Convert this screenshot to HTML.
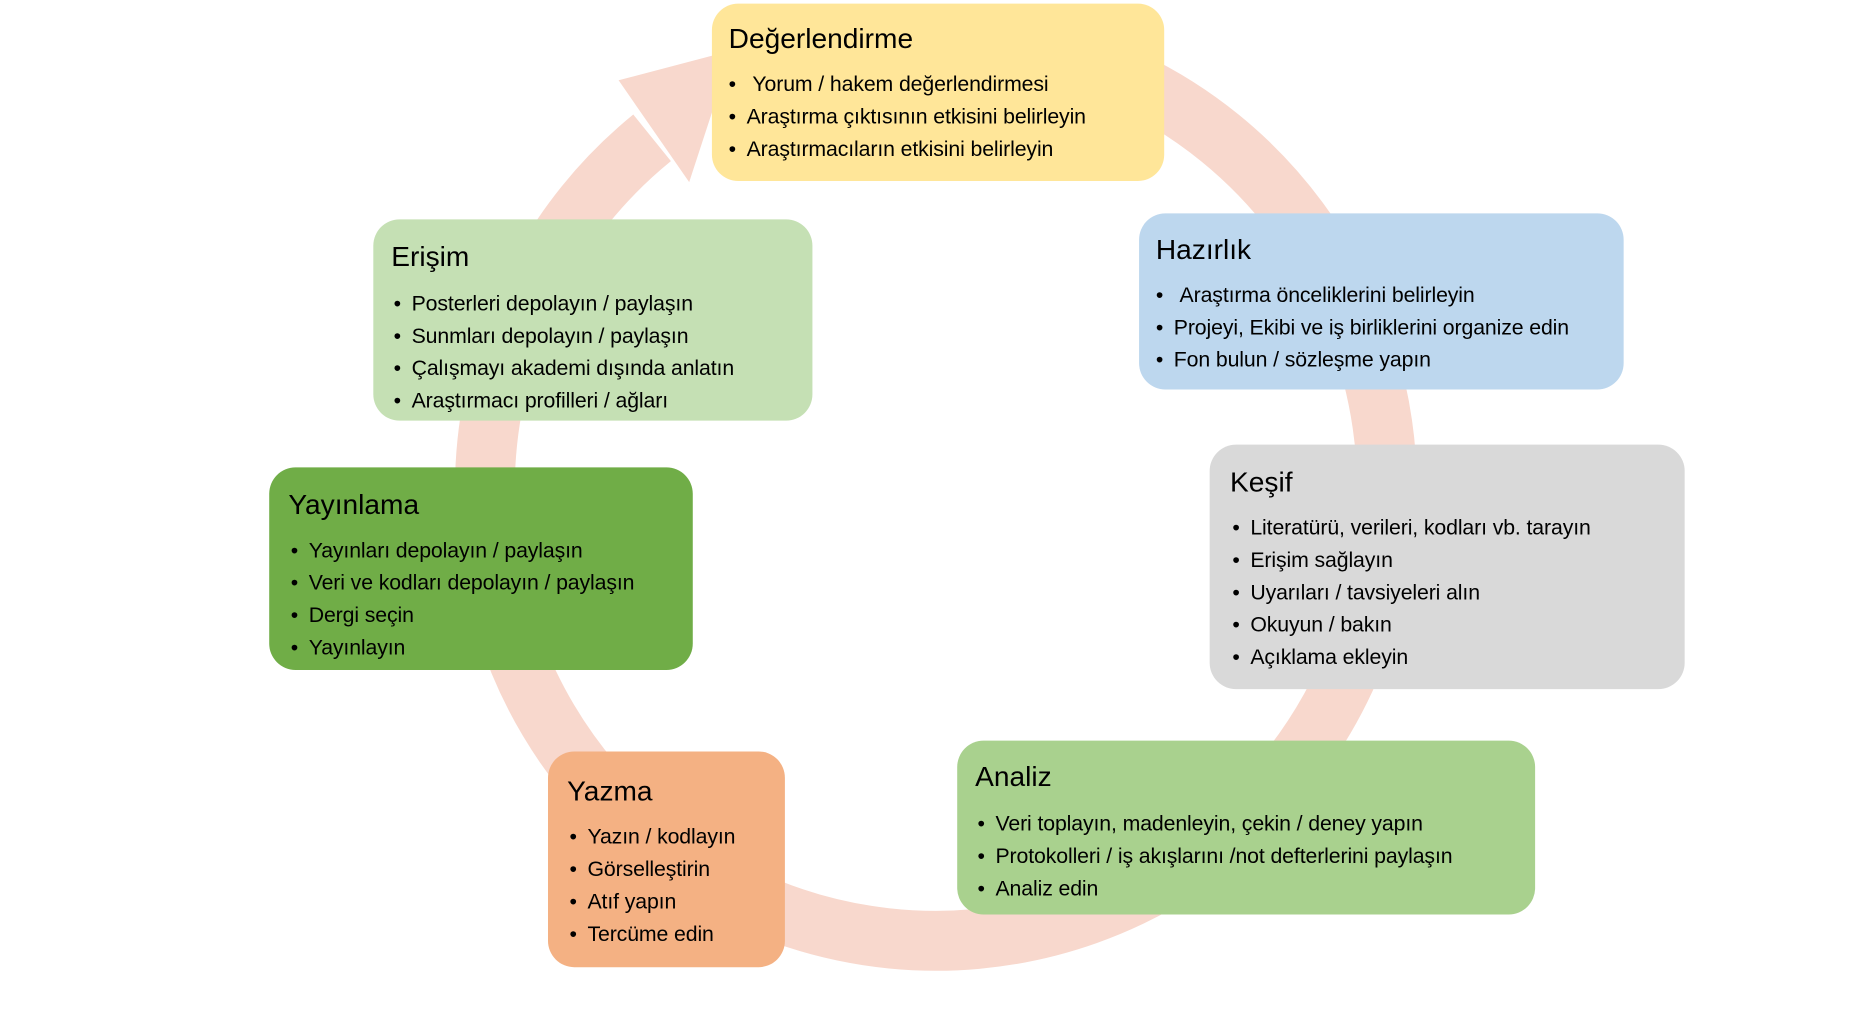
<!DOCTYPE html>
<html><head><meta charset="utf-8"><style>
html,body{margin:0;padding:0;background:#fff;width:1874px;height:1017px;overflow:hidden}
#w{position:absolute;left:0;top:0;width:1560px;height:845px;transform-origin:0 0;transform:scale(1.1965,1.1985)}
.b{position:absolute;border-radius:22px;box-sizing:border-box;font-family:"Liberation Sans",sans-serif;color:#000}
.t{position:absolute;font-size:23.5px;line-height:26px;white-space:nowrap}
.l{position:absolute;font-size:17.8px;line-height:27px;white-space:nowrap;letter-spacing:-0.1px}
.l div:before{content:"•";display:inline-block;width:15px}
svg{position:absolute;left:0;top:0}
</style></head><body><div id="w">
<svg width="1560" height="845">
<path d="M782 31 A377 377 0 1 1 545 115" fill="none" stroke="#F8D8CD" stroke-width="50"/>
<polygon points="517,67,612,42,576,152" fill="#F8D8CD"/>
</svg>
<div class="b" style="left:595px;top:3px;width:378px;height:148px;background:#FFE699">
<div class="t" style="left:14px;top:16px">Değerlendirme</div>
<div class="l" style="left:14px;top:54px"><div>&nbsp;Yorum / hakem değerlendirmesi</div><div>Araştırma çıktısının etkisini belirleyin</div><div>Araştırmacıların etkisini belirleyin</div></div></div>
<div class="b" style="left:952px;top:178px;width:405px;height:147px;background:#BDD7EE">
<div class="t" style="left:14px;top:17px">Hazırlık</div>
<div class="l" style="left:14px;top:55px"><div>&nbsp;Araştırma önceliklerini belirleyin</div><div>Projeyi, Ekibi ve iş birliklerini organize edin</div><div>Fon bulun / sözleşme yapın</div></div></div>
<div class="b" style="left:1011px;top:371px;width:397px;height:204px;background:#D9D9D9">
<div class="t" style="left:17px;top:18px">Keşif</div>
<div class="l" style="left:19px;top:56px"><div>Literatürü, verileri, kodları vb. tarayın</div><div>Erişim sağlayın</div><div>Uyarıları / tavsiyeleri alın</div><div>Okuyun / bakın</div><div>Açıklama ekleyin</div></div></div>
<div class="b" style="left:800px;top:618px;width:483px;height:145px;background:#A9D18E">
<div class="t" style="left:15px;top:17px">Analiz</div>
<div class="l" style="left:17px;top:56px"><div>Veri toplayın, madenleyin, çekin / deney yapın</div><div>Protokolleri / iş akışlarını /not defterlerini paylaşın</div><div>Analiz edin</div></div></div>
<div class="b" style="left:458px;top:627px;width:198px;height:180px;background:#F4B183">
<div class="t" style="left:16px;top:20px">Yazma</div>
<div class="l" style="left:18px;top:58px"><div>Yazın / kodlayın</div><div>Görselleştirin</div><div>Atıf yapın</div><div>Tercüme edin</div></div></div>
<div class="b" style="left:225px;top:390px;width:354px;height:169px;background:#70AD47">
<div class="t" style="left:16px;top:18px">Yayınlama</div>
<div class="l" style="left:18px;top:56px"><div>Yayınları depolayın / paylaşın</div><div>Veri ve kodları depolayın / paylaşın</div><div>Dergi seçin</div><div>Yayınlayın</div></div></div>
<div class="b" style="left:312px;top:183px;width:367px;height:168px;background:#C5E0B4">
<div class="t" style="left:15px;top:18px">Erişim</div>
<div class="l" style="left:17px;top:57px"><div>Posterleri depolayın / paylaşın</div><div>Sunmları depolayın / paylaşın</div><div>Çalışmayı akademi dışında anlatın</div><div>Araştırmacı profilleri / ağları</div></div></div>
</div></body></html>
